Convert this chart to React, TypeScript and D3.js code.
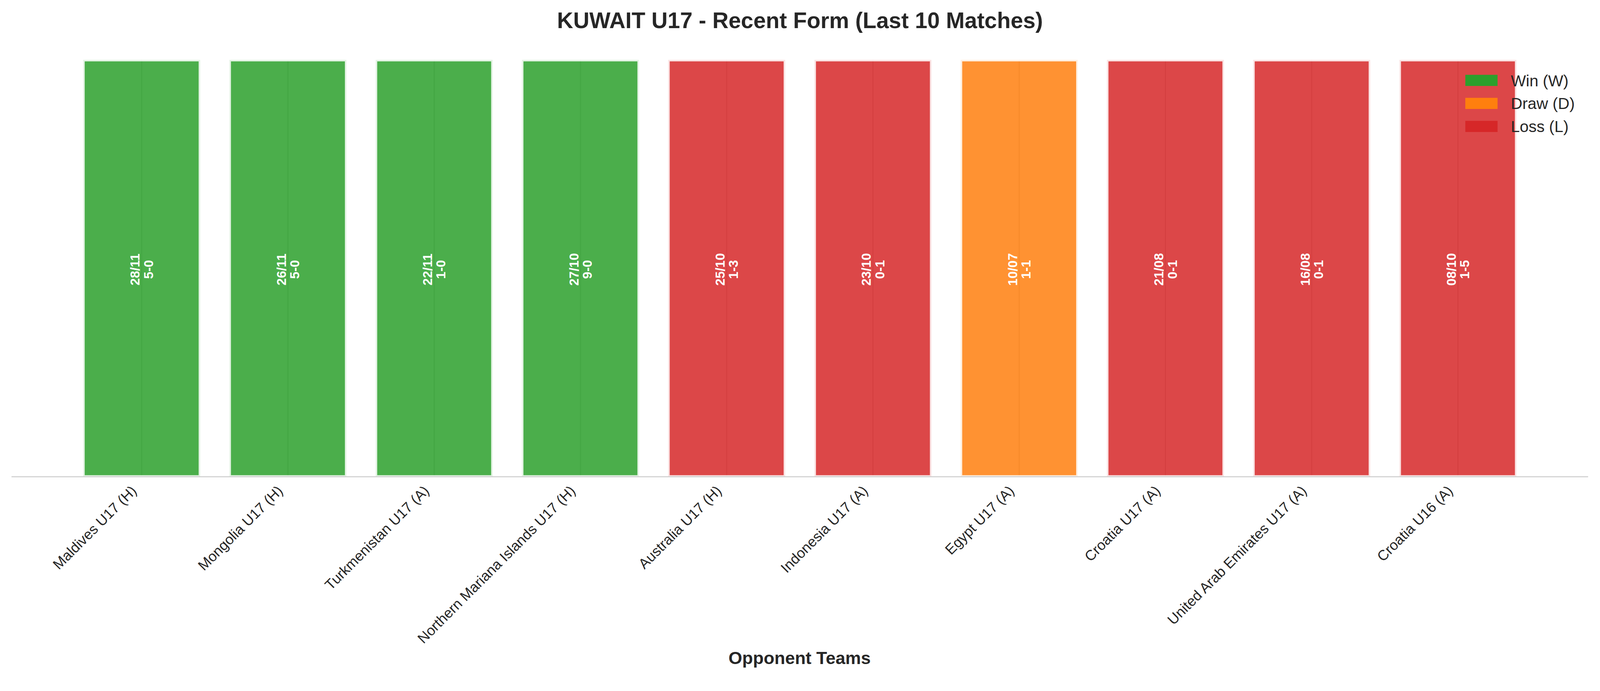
import React from "react";
import * as d3 from "d3";

const opponents = [
  "Maldives U17 (H)",
  "Mongolia U17 (H)",
  "Turkmenistan U17 (A)",
  "Northern Mariana Islands U17 (H)",
  "Australia U17 (H)",
  "Indonesia U17 (A)",
  "Egypt U17 (A)",
  "Croatia U17 (A)",
  "United Arab Emirates U17 (A)",
  "Croatia U16 (A)",
];
const results = ["W", "W", "W", "W", "L", "L", "D", "L", "L", "L"];
const dates = ["28/11", "26/11", "22/11", "27/10", "25/10", "23/10", "10/07", "21/08", "16/08", "08/10"];
const scores = ["5-0", "5-0", "1-0", "9-0", "1-3", "0-1", "1-1", "0-1", "0-1", "1-5"];
const barHeights = [1, 1, 1, 1, 1, 1, 1, 1, 1, 1];

const legendKeys = ["W", "D", "L"];
const legendLabels = ["Win (W)", "Draw (D)", "Loss (L)"];
const resultColors: Record<string, string> = { W: "#2ca02c", D: "#ff7f0e", L: "#d62728" };

const W = 4170;
const H = 1769;
const FONT = "'Liberation Sans', Arial, Helvetica, sans-serif";
const TEXT = "#262626";

export default function App() {
  const x = d3.scaleLinear().domain([-0.89, 9.89]).range([30, 4139]);
  const y = d3.scaleLinear().domain([0, 1]).range([1242.5, 156]);
  const barW = 0.8;
  const legendY = d3.scaleLinear().domain([0, 1]).range([209.5, 269.5]);

  return (
    <>
      <style>{`html,body{margin:0;padding:0;background:#fff;overflow:hidden}`}</style>
      <svg
        viewBox={`0 0 ${W} ${H}`}
        preserveAspectRatio="xMidYMin meet"
        style={{ display: "block", width: "100vw", height: "100vh", fontFamily: FONT }}
      >
        <rect x={0} y={0} width={W} height={H} fill="#ffffff" />
        {/* grid lines */}
        {opponents.map((_, i) => (
          <line key={"g" + i} x1={x(i)} x2={x(i)} y1={y(1)} y2={y(0)} stroke="#cccccc" strokeWidth={3} />
        ))}
        {/* bars */}
        {barHeights.map((v, i) => (
          <rect
            key={"b" + i}
            x={x(i - barW / 2)}
            width={x(i + barW / 2) - x(i - barW / 2)}
            y={y(v)}
            height={y(0) - y(v)}
            fill={resultColors[results[i]]}
            fillOpacity={0.85}
            stroke="#ffffff"
            strokeOpacity={0.85}
            strokeWidth={8}
          />
        ))}
        {/* bar texts */}
        {barHeights.map((v, i) => (
          <g key={"t" + i} transform={`translate(${x(i)},${y(v / 2) + 3}) rotate(-90)`}>
            <text x={0} y={-5.5} textAnchor="middle" fontSize={34} fontWeight="bold" fill="#ffffff">
              {dates[i]}
            </text>
            <text x={0} y={29.5} textAnchor="middle" fontSize={34} fontWeight="bold" fill="#ffffff">
              {scores[i]}
            </text>
          </g>
        ))}
        {/* bottom spine */}
        <line x1={x(-0.89)} x2={x(9.89)} y1={y(0)} y2={y(0)} stroke="#cccccc" strokeWidth={2.5} />
        {/* tick labels */}
        {opponents.map((name, i) => (
          <text
            key={"l" + i}
            transform={`translate(${x(i) - 11},${y(0) + 39}) rotate(-45)`}
            textAnchor="end"
            fontSize={37.5}
            fill={TEXT}
          >
            {name}
          </text>
        ))}
        {/* title */}
        <text x={2085} y={73} textAnchor="middle" fontSize={58.3} fontWeight="bold" fill={TEXT}>
          KUWAIT U17 - Recent Form (Last 10 Matches)
        </text>
        {/* x label */}
        <text x={2084} y={1730.5} textAnchor="middle" fontSize={45.8} fontWeight="bold" fill={TEXT}>
          Opponent Teams
        </text>
        {/* legend */}
        {legendKeys.map((k, j) => (
          <g key={"lg" + k}>
            <rect x={3819} y={legendY(j) - 14.5} width={84} height={29} fill={resultColors[k]} />
            <text x={3937.5} y={legendY(j) + 15} fontSize={41.7} fill={TEXT}>
              {legendLabels[j]}
            </text>
          </g>
        ))}
      </svg>
    </>
  );
}
